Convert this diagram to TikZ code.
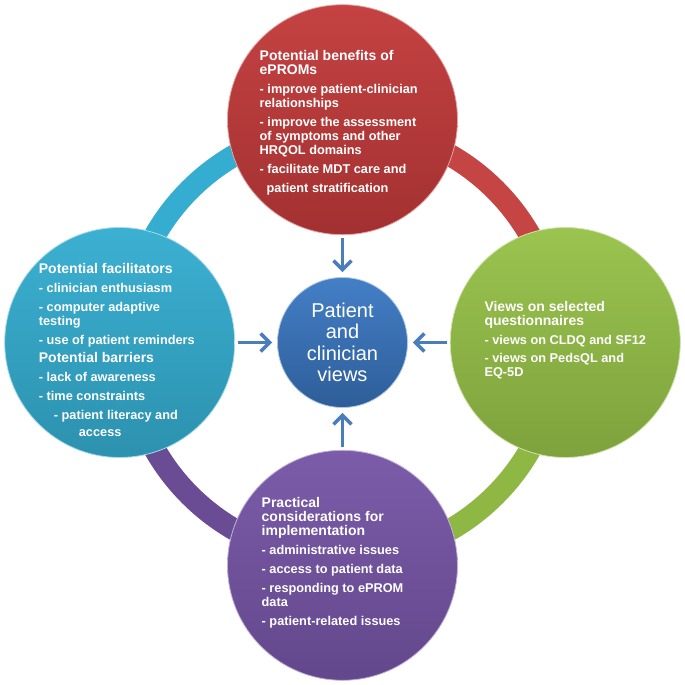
\documentclass[tikz,border=0pt]{standalone}
\usepackage{fontspec}
\setmainfont{Liberation Sans}
\usepackage{tikz}
\usetikzlibrary{arrows.meta,positioning}
\definecolor{viewblue}{HTML}{3A78C3}
\definecolor{arrowblue}{HTML}{4A7EBB}
\definecolor{benefitred}{HTML}{C23A3A}
\definecolor{facilcyan}{HTML}{34ADD0}
\definecolor{questgreen}{HTML}{96C148}
\definecolor{practpurple}{HTML}{7655A6}
\newcommand{\hd}{\fontsize{14}{15}\selectfont}

\begin{document}
\begin{tikzpicture}[x=1pt,y=1pt,
    bubble/.style={circle,minimum size=230pt,inner sep=0pt,
      top color=#1!96!white,bottom color=#1!84!black,
      draw=#1!45!white,line width=0.8pt},
    hub/.style={circle,minimum size=130pt,inner sep=0pt,
      top color=viewblue!95!white,bottom color=viewblue!78!black,
      draw=viewblue!40!white,line width=0.8pt,text=white,align=center,
      font=\fontsize{20}{21.5}\selectfont},
    txt/.style={anchor=north west,inner sep=0pt,align=left,text=white,
      font=\bfseries\fontsize{12.75}{14}\selectfont},
    ring/.style={line width=22pt},
    arr/.style={arrowblue,line width=3.5pt,
      -{Straight Barb[length=9pt,width=18pt]},shorten <=3pt,shorten >=5pt}]
  \useasboundingbox (-342.5,-342.5) rectangle (342.5,342.5);

  \node[hub] (views) at (0,0) {Patient\\and\\clinician\\views};

  % ring behind the four circles
  \draw[ring,facilcyan] (180:216) arc[start angle=180,end angle=90,radius=216];
  \draw[ring,benefitred!95!white] (90:216) arc[start angle=90,end angle=0,radius=216];
  \draw[ring,questgreen!95!black] (0:216) arc[start angle=0,end angle=-90,radius=216];
  \draw[ring,practpurple!90!black] (-90:216) arc[start angle=-90,end angle=-180,radius=216];

  \node[bubble=benefitred,above=42pt of views] (benefits) {};
  \node[bubble=facilcyan,left=42pt of views] (facil) {};
  \node[bubble=questgreen,right=42pt of views] (quest) {};
  \node[bubble=practpurple,below=42pt of views] (pract) {};

  \node[txt] (benefitstxt) at ([xshift=-83pt,yshift=70pt]benefits.center)
    {{\hd Potential benefits of}\\{\hd ePROMs}\\[5pt]
     - improve patient-clinician\\relationships\\[5pt]
     - improve the assessment\\of symptoms and other\\HRQOL domains\\[5pt]
     - facilitate MDT care and\\[5pt]\hspace*{7pt}patient stratification};
  \node[txt] (faciltxt) at ([xshift=-81pt,yshift=79pt]facil.center)
    {{\hd Potential facilitators}\\[5pt]
     - clinician enthusiasm\\[5pt]
     - computer adaptive\\testing\\[5pt]
     - use of patient reminders\\[4pt]
     {\hd Potential barriers}\\[5pt]
     - lack of awareness\\[5pt]
     - time constraints\\[5pt]
     \hspace*{15pt}- patient literacy and\\[3pt]\hspace*{40pt}access};
  \node[txt] (questtxt) at ([xshift=-81pt,yshift=41pt]quest.center)
    {{\hd Views on selected}\\{\hd questionnaires}\\[5pt]
     - views on CLDQ and SF12\\[4pt]
     - views on PedsQL and\\EQ-5D};
  \node[txt] (practtxt) at ([xshift=-81pt,yshift=68pt]pract.center)
    {{\hd Practical}\\{\hd considerations for}\\{\hd implementation}\\[5pt]
     - administrative issues\\[5pt]
     - access to patient data\\[5pt]
     - responding to ePROM\\data\\[5pt]
     - patient-related issues};

  \draw[arr] (benefits) -- (views);
  \draw[arr] (facil) -- (views);
  \draw[arr] (quest) -- (views);
  \draw[arr] (pract) -- (views);
\end{tikzpicture}
\end{document}
